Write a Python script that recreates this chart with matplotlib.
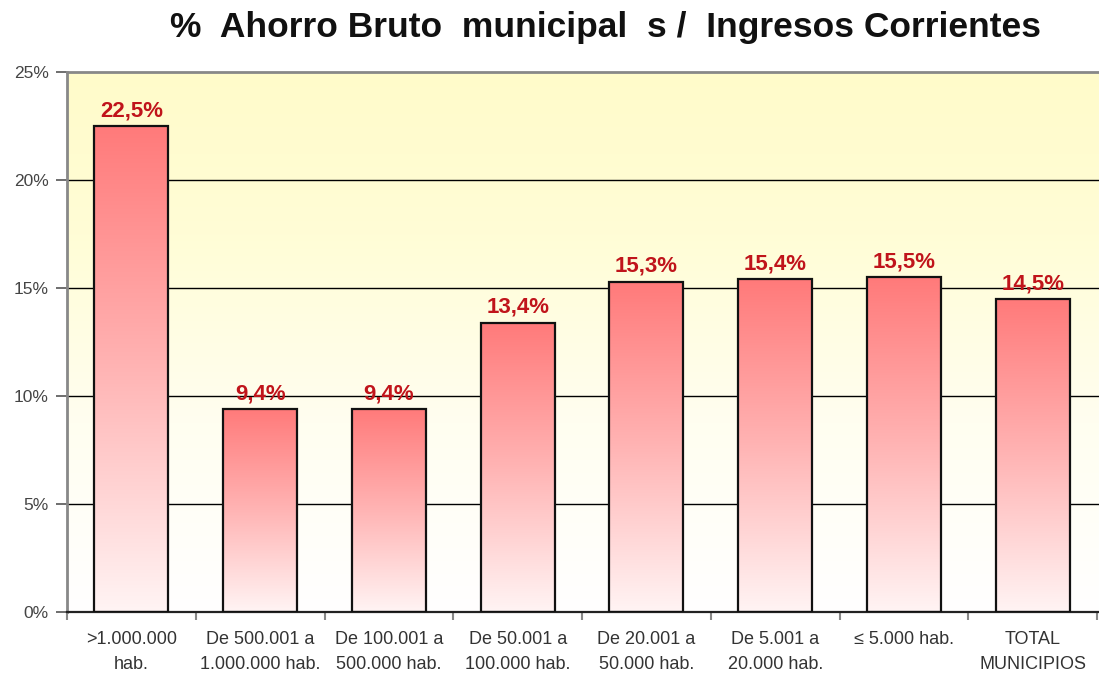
import numpy as np
import matplotlib
matplotlib.use("Agg")
import matplotlib.pyplot as plt
from matplotlib.colors import LinearSegmentedColormap
from matplotlib.patches import Rectangle

categories = [">1.000.000\nhab.", "De 500.001 a\n1.000.000 hab.", "De 100.001 a\n500.000 hab.",
              "De 50.001 a\n100.000 hab.", "De 20.001 a\n50.000 hab.", "De 5.001 a\n20.000 hab.",
              "≤ 5.000 hab.", "TOTAL\nMUNICIPIOS"]
values = [22.5, 9.4, 9.4, 13.4, 15.3, 15.4, 15.5, 14.5]
value_labels = ["22,5%", "9,4%", "9,4%", "13,4%", "15,3%", "15,4%", "15,5%", "14,5%"]
yticks = [0, 5, 10, 15, 20, 25]
ytick_labels = ["0%", "5%", "10%", "15%", "20%", "25%"]

plt.rcParams['font.family'] = ['Liberation Sans', 'DejaVu Sans']

fig = plt.figure(figsize=(10.99, 6.77), dpi=100)
ax = fig.add_axes([67/1099, 1-612/677, (1099-67)/1099, (612-72)/677])

n = len(values)
x = np.arange(n)
ax.set_xlim(-0.5, n - 0.5 + 0.015)
ax.set_ylim(0, 25)

# background gradient
bg = LinearSegmentedColormap.from_list("bg", [(0, "#FFFFFF"), (0.35, "#FFFEF0"), (0.7, "#FFFDD6"), (1, "#FFFBCA")])
grad = np.linspace(0, 1, 256).reshape(-1, 1)
ax.imshow(grad, extent=[-0.5, n - 0.5 + 0.015, 0, 25], origin="lower", aspect="auto", cmap=bg, zorder=0)

for yv in yticks[1:-1]:
    ax.axhline(yv, color="#000000", lw=1.0, zorder=1)

barcm = LinearSegmentedColormap.from_list("bar", [(0, "#FFF4F4"), (0.5, "#FFB4B4"), (1, "#FF7A7A")])
width = 0.575
bars = ax.bar(x, values, width=width, color="none", edgecolor="#111111", linewidth=1.6, zorder=3)
for b, v in zip(bars, values):
    x0 = b.get_x()
    g = np.linspace(0, 1, 256).reshape(-1, 1)
    im = ax.imshow(g, extent=[x0, x0 + width, 0, v], origin="lower", aspect="auto",
                   cmap=barcm, zorder=2)
    im.set_clip_path(Rectangle((x0, 0), width, v, transform=ax.transData))

for xi, v, lab in zip(x, values, value_labels):
    ax.text(xi, v + 0.22, lab, ha="center", va="bottom", color="#C0141B",
            fontsize=16, fontweight="bold", zorder=4)

ax.set_yticks(yticks)
ax.set_yticklabels(ytick_labels, fontsize=12.5, color="#444444")
ax.set_xticks(x)
ax.set_xticklabels(categories, fontsize=13, color="#333333", linespacing=1.55)
ax.tick_params(axis="x", length=0, pad=14)
ax.set_xticks(np.arange(-0.5, n, 1), minor=True)
ax.tick_params(axis="x", which="minor", length=6, color="#888888", width=1.5)
ax.tick_params(axis="y", length=8, color="#555555", width=1.2, pad=5)

for s in ["left", "top"]:
    ax.spines[s].set_color("#888888")
    ax.spines[s].set_linewidth(2)
ax.spines["right"].set_visible(False)
ax.spines["bottom"].set_color("#222222")
ax.spines["bottom"].set_linewidth(1.6)

fig.text(606/1099, 1 - 28/677, "%  Ahorro Bruto  municipal  s /  Ingresos Corrientes",
         ha="center", va="center", fontsize=25.5, fontweight="bold", color="#111111")

fig.savefig("out.png", dpi=100)
